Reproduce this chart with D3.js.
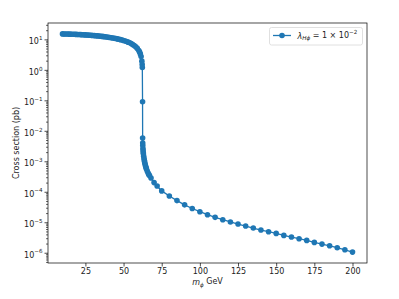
<!DOCTYPE html>
<html>
<head>
<meta charset="utf-8">
<script src="https://cdn.jsdelivr.net/npm/d3@7"></script>
<style>
	body { margin: 0; background: #fff; }
	text { font-family: 'DejaVu Sans', sans-serif; }
</style>
</head>
<body>
<div id="chart"></div>
<script>
/* global d3 */

// scan above threshold (m_phi < m_h / 2)
var massUpper = [
	10, 11, 12, 13, 14, 15, 16, 17, 18, 19,
	20, 21, 22, 23, 24, 25, 26, 27, 28, 29,
	30, 31, 32, 33, 34, 35, 36, 37, 38, 39,
	40, 41, 42, 43, 44, 45, 46, 47, 48, 49,
	50, 51, 52, 53, 54, 55, 56, 57, 58, 59,
	60, 60.5, 61, 61.5, 62, 62.2, 62.3, 62.45
];
var sigmaUpper = [
	15.10, 15.06, 15.02, 14.97, 14.91, 14.85, 14.79, 14.72, 14.65, 14.57,
	14.50, 14.41, 14.32, 14.23, 14.13, 14.02, 13.91, 13.80, 13.68, 13.55,
	13.42, 13.29, 13.14, 12.99, 12.84, 12.68, 12.51, 12.33, 12.15, 11.96,
	11.76, 11.55, 11.33, 11.10, 10.87, 10.62, 10.36, 10.09, 9.80, 9.50,
	9.18, 8.84, 8.49, 8.11, 7.70, 7.27, 6.79, 6.28, 5.70, 5.05,
	4.28, 3.84, 3.33, 2.73, 1.93, 1.50, 1.19, 0.09
];

// scan below threshold (m_phi > m_h / 2)
var massLower = [
	62.5, 62.55, 62.6, 62.7, 62.8, 62.9, 63.0, 63.2, 63.4, 63.6,
	63.8, 64.0, 64.25, 64.5, 64.75, 65.0, 65.5, 66.0, 66.5, 67.0,
	68, 70, 72, 75, 80, 85, 90, 95, 100, 105,
	110, 115, 120, 125, 130, 135, 140, 145, 150, 155,
	160, 165, 170, 175, 180, 185, 190, 195, 200
];
var sigmaLower = [
	5.8e-3, 3.98e-3, 3.31e-3, 2.63e-3, 2.24e-3, 1.95e-3, 1.74e-3, 1.45e-3, 1.23e-3, 1.07e-3,
	9.55e-4, 8.51e-4, 7.59e-4, 6.76e-4, 6.17e-4, 5.62e-4, 4.79e-4, 4.17e-4, 3.72e-4, 3.39e-4,
	2.82e-4, 2.00e-4, 1.55e-4, 1.07e-4, 7.24e-5, 5.13e-5, 3.72e-5, 2.82e-5, 2.22e-5, 1.77e-5,
	1.45e-5, 1.21e-5, 1.02e-5, 8.73e-6, 7.50e-6, 6.46e-6, 5.55e-6, 4.89e-6, 4.31e-6, 3.71e-6,
	3.27e-6, 2.88e-6, 2.54e-6, 2.18e-6, 1.92e-6, 1.69e-6, 1.46e-6, 1.25e-6, 1.05e-6
];

var xTicks = [25, 50, 75, 100, 125, 150, 175, 200];
var yExponents = [-6, -5, -4, -3, -2, -1, 0, 1];

var BLUE = '#1f77b4';
var FONT = 8;
var SUB = 5.6;

var width = 399, height = 299;
var plot = { left: 48, right: 367, top: 23, bottom: 263 };

var points = massUpper.map(function (m, i) { return { m: m, s: sigmaUpper[i] }; })
	.concat(massLower.map(function (m, i) { return { m: m, s: sigmaLower[i] }; }));

// matplotlib style 5% margins
var xExt = d3.extent(points, function (d) { return d.m; });
var xPad = (xExt[1] - xExt[0]) * 0.05;
var x = d3.scaleLinear()
	.domain([xExt[0] - xPad, xExt[1] + xPad])
	.range([plot.left, plot.right]);

var yExt = d3.extent(points, function (d) { return Math.log10(d.s); });
var yPad = (yExt[1] - yExt[0]) * 0.05;
var y = d3.scaleLog()
	.domain([Math.pow(10, yExt[0] - yPad), Math.pow(10, yExt[1] + yPad)])
	.range([plot.bottom, plot.top]);

var svg = d3.select('#chart')
	.append('svg')
	.attr('width', width)
	.attr('height', height);

// minor log ticks
var minorTicks = [];
for (var e = -7; e <= 1; e++) {
	for (var k = 2; k <= 9; k++) {
		var v = k * Math.pow(10, e);
		if (v >= y.domain()[0] && v <= y.domain()[1]) minorTicks.push(v);
	}
}

var yMinor = svg.append('g')
	.attr('transform', 'translate(' + plot.left + ',0)')
	.call(d3.axisLeft(y).tickValues(minorTicks).tickSize(2).tickFormat(''));
yMinor.select('.domain').remove();
yMinor.selectAll('line').attr('stroke', '#000').attr('stroke-width', 0.6);

var yAxis = svg.append('g')
	.attr('transform', 'translate(' + plot.left + ',0)')
	.call(d3.axisLeft(y)
		.tickValues(yExponents.map(function (e) { return Math.pow(10, e); }))
		.tickSize(3.5)
		.tickPadding(2)
		.tickFormat(''));
yAxis.select('.domain').remove();
yAxis.selectAll('line').attr('stroke', '#000').attr('stroke-width', 0.7);
yAxis.selectAll('.tick text')
	.attr('font-size', FONT)
	.attr('fill', '#222')
	.attr('font-family', "'DejaVu Sans', sans-serif")
	.each(function (d) {
		var t = d3.select(this);
		var e = Math.round(Math.log10(d));
		t.attr('dy', '0.55em');
		t.append('tspan').text('10');
		t.append('tspan')
			.attr('font-size', SUB)
			.attr('dy', '-0.75em')
			.text(e < 0 ? '\u2212' + (-e) : String(e));
	});

var xAxis = svg.append('g')
	.attr('transform', 'translate(0,' + plot.bottom + ')')
	.call(d3.axisBottom(x).tickValues(xTicks).tickSize(3.5).tickPadding(2));
xAxis.select('.domain').remove();
xAxis.selectAll('line').attr('stroke', '#000').attr('stroke-width', 0.7);
xAxis.selectAll('text')
	.attr('font-size', FONT)
	.attr('fill', '#222')
	.attr('font-family', "'DejaVu Sans', sans-serif");

// data line + markers
var line = d3.line()
	.x(function (d) { return x(d.m); })
	.y(function (d) { return y(d.s); });

svg.append('path')
	.datum(points)
	.attr('d', line)
	.attr('fill', 'none')
	.attr('stroke', BLUE)
	.attr('stroke-width', 1.3);

svg.append('g')
	.selectAll('circle')
	.data(points)
	.join('circle')
	.attr('cx', function (d) { return x(d.m); })
	.attr('cy', function (d) { return y(d.s); })
	.attr('r', 2.8)
	.attr('fill', BLUE);

// frame
svg.append('rect')
	.attr('x', plot.left)
	.attr('y', plot.top)
	.attr('width', plot.right - plot.left)
	.attr('height', plot.bottom - plot.top)
	.attr('fill', 'none')
	.attr('stroke', '#000')
	.attr('stroke-width', 0.7);

// axis labels
var xl = svg.append('text')
	.attr('x', (plot.left + plot.right) / 2)
	.attr('y', 285)
	.attr('text-anchor', 'middle')
	.attr('font-size', FONT)
	.attr('fill', '#222');
xl.append('tspan').attr('font-style', 'italic').text('m');
xl.append('tspan').attr('font-size', SUB).attr('font-style', 'italic').attr('dy', '0.3em').text('\u03d5');
xl.append('tspan').attr('dy', '-0.3em').text(' GeV');

svg.append('text')
	.attr('transform', 'translate(19,' + (plot.top + plot.bottom) / 2 + ') rotate(-90)')
	.attr('text-anchor', 'middle')
	.attr('font-size', FONT)
	.attr('fill', '#222')
	.text('Cross section (pb)');

// legend
var legend = svg.append('g');
legend.append('rect')
	.attr('x', 269.5)
	.attr('y', 27.5)
	.attr('width', 93)
	.attr('height', 17.5)
	.attr('rx', 2)
	.attr('fill', '#fff')
	.attr('fill-opacity', 0.8)
	.attr('stroke', '#d8d8d8')
	.attr('stroke-width', 0.8);
legend.append('line')
	.attr('x1', 273).attr('x2', 291)
	.attr('y1', 35.5).attr('y2', 35.5)
	.attr('stroke', BLUE)
	.attr('stroke-width', 1.3);
legend.append('circle')
	.attr('cx', 282).attr('cy', 35.5).attr('r', 2.8)
	.attr('fill', BLUE);

var lt = legend.append('text')
	.attr('x', 297.5)
	.attr('y', 38.5)
	.attr('font-size', FONT)
	.attr('fill', '#222');
lt.append('tspan').attr('font-style', 'italic').text('\u03bb');
lt.append('tspan').attr('font-size', SUB).attr('font-style', 'italic').attr('dy', '0.3em').text('H\u03d5');
lt.append('tspan').attr('dy', '-0.3em').text(' = 1 \u00d7 10');
lt.append('tspan').attr('font-size', SUB).attr('dy', '-0.75em').text('\u22122');
</script>
</body>
</html>
